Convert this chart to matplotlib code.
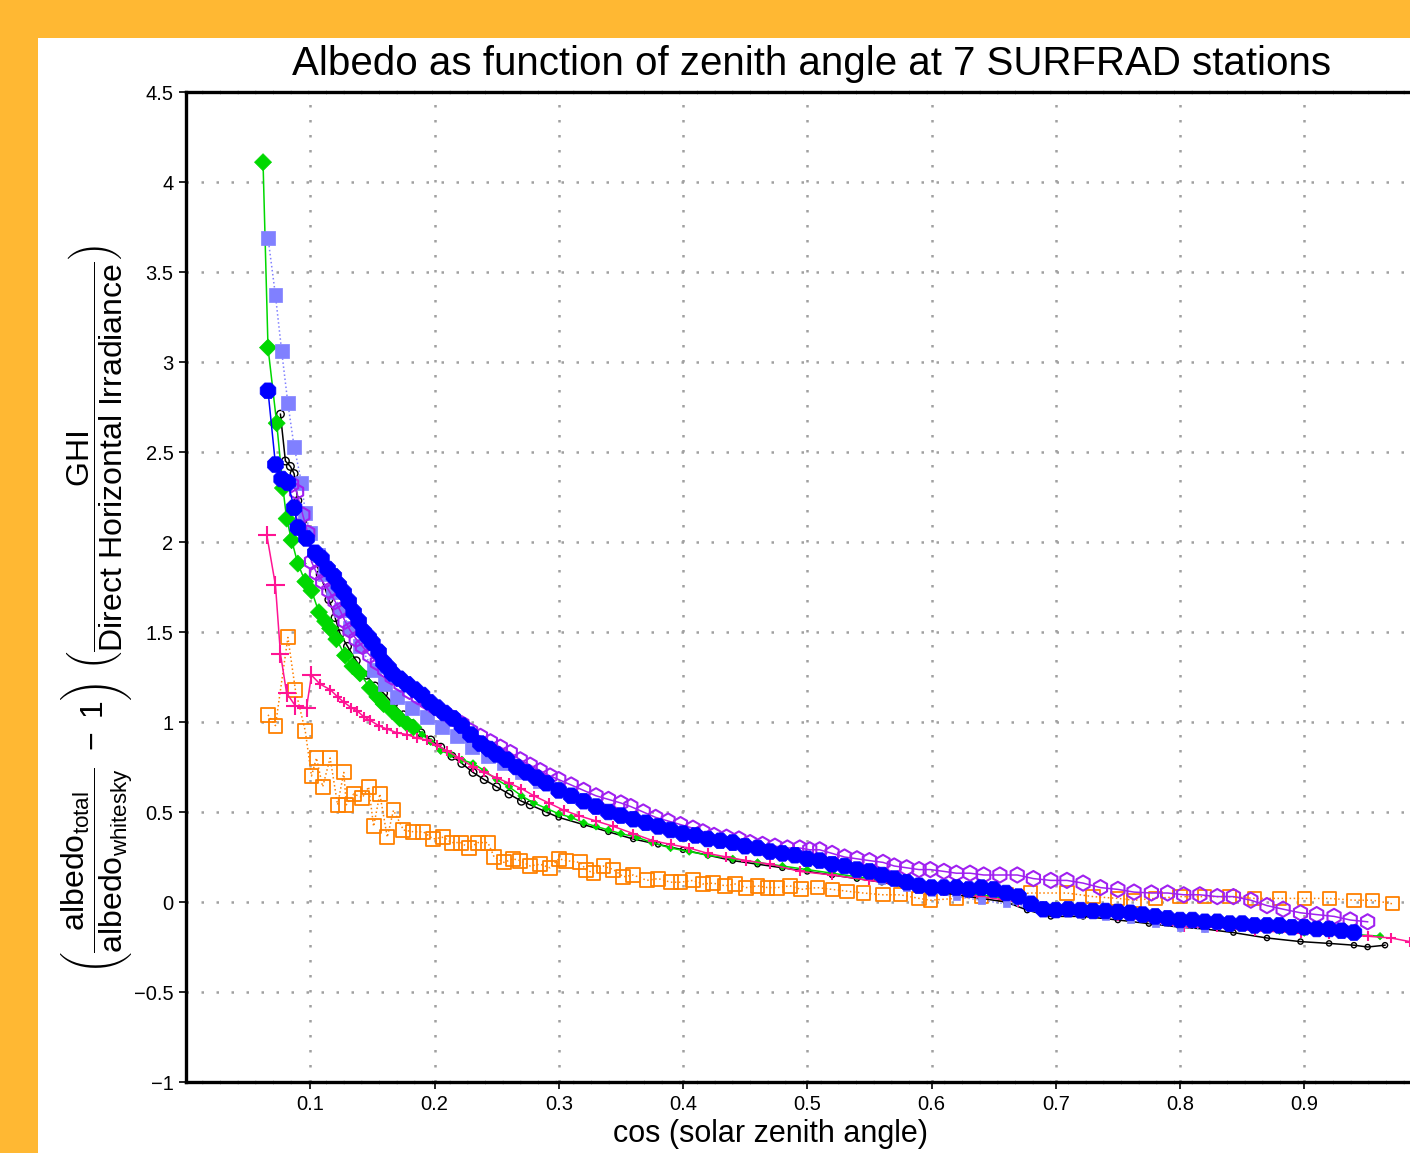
import numpy as np
import matplotlib.pyplot as plt
from matplotlib.patches import Rectangle

plt.rcParams['font.family'] = ['Liberation Sans', 'DejaVu Sans']
plt.rcParams['mathtext.fontset'] = 'custom'
plt.rcParams['mathtext.rm'] = 'Liberation Sans'
plt.rcParams['mathtext.it'] = 'Liberation Sans'
plt.rcParams['axes.unicode_minus'] = True

# ---- data: cos(zenith) and scaled albedo ----
green_x = [0.062, 0.066, 0.073, 0.078, 0.081, 0.085, 0.090, 0.096, 0.101, 0.107, 0.112, 0.116,
           0.121, 0.128, 0.134, 0.140, 0.148, 0.154, 0.159, 0.166, 0.172, 0.178, 0.183, 0.190,
           0.197, 0.205, 0.213, 0.222, 0.231, 0.240, 0.250, 0.260, 0.270, 0.280, 0.290, 0.300,
           0.310, 0.320, 0.330, 0.340, 0.350, 0.363, 0.375, 0.390, 0.405, 0.420, 0.440, 0.460,
           0.480, 0.500, 0.520, 0.540, 0.560, 0.580, 0.600, 0.620, 0.640, 0.660, 0.680, 0.700,
           0.720, 0.740, 0.760, 0.780, 0.800, 0.820, 0.840, 0.860, 0.880, 0.900, 0.920, 0.940,
           0.961]
green_y = [4.11, 3.08, 2.66, 2.30, 2.13, 2.01, 1.88, 1.78, 1.73, 1.61, 1.56, 1.52,
           1.46, 1.37, 1.31, 1.27, 1.19, 1.14, 1.10, 1.06, 1.02, 0.99, 0.97, 0.93,
           0.89, 0.84, 0.82, 0.79, 0.77, 0.73, 0.68, 0.64, 0.59, 0.55, 0.52, 0.49,
           0.47, 0.44, 0.42, 0.40, 0.38, 0.36, 0.33, 0.30, 0.28, 0.26, 0.24, 0.22,
           0.20, 0.18, 0.16, 0.14, 0.12, 0.10, 0.08, 0.06, 0.04, 0.02, 0.00, -0.02,
           -0.04, -0.06, -0.08, -0.10, -0.12, -0.13, -0.14, -0.15, -0.16, -0.17, -0.17, -0.18,
           -0.19]

lblue_x = [0.066, 0.072, 0.077, 0.082, 0.087, 0.093, 0.096, 0.100, 0.106, 0.112, 0.118, 0.125,
           0.132, 0.140, 0.151, 0.160, 0.170, 0.182, 0.194, 0.206, 0.218, 0.230, 0.243, 0.256,
           0.270, 0.285, 0.300, 0.315, 0.330, 0.345, 0.360, 0.380, 0.400, 0.420, 0.440, 0.460,
           0.480, 0.500, 0.520, 0.540, 0.560, 0.580, 0.600, 0.620, 0.640, 0.660, 0.680, 0.700,
           0.720, 0.740, 0.760, 0.780, 0.800, 0.820]
lblue_y = [3.69, 3.37, 3.06, 2.77, 2.53, 2.33, 2.16, 2.05, 1.93, 1.82, 1.72, 1.62,
           1.52, 1.42, 1.29, 1.21, 1.14, 1.08, 1.03, 0.97, 0.92, 0.86, 0.81, 0.77,
           0.72, 0.67, 0.62, 0.58, 0.54, 0.50, 0.46, 0.42, 0.38, 0.34, 0.31, 0.28,
           0.25, 0.22, 0.19, 0.16, 0.12, 0.08, 0.05, 0.03, 0.01, -0.01, -0.03, -0.05,
           -0.07, -0.08, -0.10, -0.12, -0.14, -0.15]

blue_x = [0.066, 0.072, 0.077, 0.082, 0.087, 0.090, 0.097, 0.104, 0.109, 0.114, 0.119, 0.123,
          0.127, 0.131, 0.135, 0.139, 0.143, 0.147, 0.150, 0.155, 0.159, 0.163, 0.166, 0.172,
          0.178, 0.184, 0.190, 0.196, 0.202, 0.208, 0.215, 0.222, 0.229, 0.237, 0.244, 0.250,
          0.258, 0.266, 0.274, 0.282, 0.290, 0.300, 0.310, 0.320, 0.330, 0.340, 0.350, 0.360,
          0.370, 0.380, 0.390, 0.400, 0.410, 0.420, 0.430, 0.440, 0.450, 0.460, 0.470, 0.480,
          0.490, 0.500, 0.510, 0.520, 0.530, 0.540, 0.550, 0.560, 0.570, 0.580, 0.590, 0.600,
          0.610, 0.620, 0.630, 0.640, 0.650, 0.660, 0.670, 0.680, 0.690, 0.700, 0.710, 0.720,
          0.730, 0.740, 0.750, 0.760, 0.770, 0.780, 0.790, 0.800, 0.810, 0.820, 0.830, 0.840,
          0.850, 0.860, 0.870, 0.880, 0.890, 0.900, 0.910, 0.920, 0.930, 0.940]
blue_y = [2.84, 2.43, 2.35, 2.33, 2.19, 2.08, 2.02, 1.94, 1.91, 1.85, 1.81, 1.76,
          1.72, 1.67, 1.61, 1.56, 1.50, 1.47, 1.44, 1.39, 1.33, 1.30, 1.27, 1.24,
          1.21, 1.18, 1.15, 1.11, 1.08, 1.05, 1.02, 0.98, 0.93, 0.88, 0.85, 0.82,
          0.79, 0.75, 0.72, 0.69, 0.66, 0.62, 0.59, 0.56, 0.53, 0.50, 0.48, 0.46,
          0.44, 0.42, 0.40, 0.38, 0.37, 0.35, 0.34, 0.33, 0.31, 0.30, 0.28, 0.27,
          0.26, 0.24, 0.23, 0.21, 0.20, 0.18, 0.17, 0.15, 0.13, 0.11, 0.09, 0.08,
          0.08, 0.08, 0.07, 0.08, 0.07, 0.05, 0.03, -0.01, -0.04, -0.045, -0.04, -0.045,
          -0.05, -0.05, -0.055, -0.06, -0.07, -0.08, -0.09, -0.10, -0.10, -0.11, -0.11, -0.12,
          -0.12, -0.13, -0.13, -0.13, -0.14, -0.14, -0.15, -0.15, -0.16, -0.17]

purple_x = [0.085, 0.089, 0.094, 0.098, 0.101, 0.105, 0.110, 0.115, 0.120, 0.124, 0.128, 0.132,
            0.137, 0.142, 0.148, 0.154, 0.160, 0.166, 0.173, 0.180, 0.187, 0.194, 0.201, 0.208,
            0.215, 0.222, 0.229, 0.237, 0.245, 0.253, 0.261, 0.269, 0.277, 0.285, 0.293, 0.300,
            0.310, 0.320, 0.330, 0.340, 0.350, 0.358, 0.368, 0.378, 0.388, 0.398, 0.408, 0.416,
            0.425, 0.435, 0.445, 0.454, 0.464, 0.474, 0.484, 0.494, 0.502, 0.510, 0.520, 0.530,
            0.540, 0.550, 0.561, 0.570, 0.580, 0.590, 0.599, 0.610, 0.620, 0.631, 0.642, 0.655,
            0.669, 0.682, 0.696, 0.709, 0.722, 0.736, 0.750, 0.763, 0.777, 0.790, 0.803, 0.816,
            0.830, 0.843, 0.857, 0.870, 0.883, 0.897, 0.910, 0.924, 0.937, 0.951]
purple_y = [2.32, 2.28, 2.15, 2.05, 1.89, 1.83, 1.78, 1.73, 1.67, 1.62, 1.56, 1.51,
            1.46, 1.42, 1.37, 1.33, 1.29, 1.25, 1.21, 1.17, 1.14, 1.11, 1.08, 1.05,
            1.02, 0.99, 0.95, 0.92, 0.89, 0.86, 0.83, 0.79, 0.76, 0.73, 0.70, 0.68,
            0.65, 0.62, 0.59, 0.57, 0.55, 0.53, 0.50, 0.47, 0.45, 0.43, 0.41, 0.39,
            0.37, 0.36, 0.35, 0.33, 0.32, 0.31, 0.30, 0.30, 0.29, 0.29, 0.27, 0.25,
            0.24, 0.23, 0.22, 0.20, 0.19, 0.18, 0.18, 0.17, 0.16, 0.16, 0.15, 0.15,
            0.15, 0.13, 0.12, 0.12, 0.105, 0.08, 0.07, 0.055, 0.05, 0.05, 0.04, 0.04,
            0.03, 0.03, 0.01, -0.02, -0.04, -0.06, -0.07, -0.08, -0.10, -0.11]

black_x = [0.076, 0.080, 0.084, 0.087, 0.090, 0.094, 0.098, 0.103, 0.108, 0.115, 0.120, 0.124,
           0.130, 0.137, 0.145, 0.152, 0.159, 0.167, 0.175, 0.182, 0.189, 0.197, 0.205, 0.214,
           0.222, 0.231, 0.240, 0.250, 0.260, 0.270, 0.277, 0.290, 0.300, 0.320, 0.340, 0.360,
           0.380, 0.400, 0.420, 0.440, 0.460, 0.480, 0.500, 0.520, 0.540, 0.560, 0.580, 0.600,
           0.620, 0.640, 0.660, 0.677, 0.696, 0.722, 0.750, 0.775, 0.800, 0.820, 0.843, 0.870,
           0.897, 0.920, 0.940, 0.951, 0.965]
black_y = [2.71, 2.45, 2.42, 2.38, 2.23, 2.12, 2.02, 1.92, 1.82, 1.68, 1.58, 1.49,
           1.42, 1.34, 1.26, 1.20, 1.16, 1.10, 1.04, 0.99, 0.94, 0.90, 0.86, 0.81,
           0.77, 0.72, 0.68, 0.64, 0.60, 0.56, 0.54, 0.50, 0.47, 0.43, 0.39, 0.35,
           0.32, 0.29, 0.26, 0.23, 0.21, 0.19, 0.17, 0.15, 0.13, 0.11, 0.08, 0.06,
           0.04, 0.02, 0.00, -0.045, -0.08, -0.08, -0.10, -0.12, -0.14, -0.15, -0.17, -0.20,
           -0.22, -0.23, -0.24, -0.25, -0.24]

pink_x = [0.065, 0.072, 0.076, 0.081, 0.088, 0.097, 0.101, 0.108, 0.116, 0.122, 0.127, 0.133,
          0.138, 0.143, 0.148, 0.155, 0.162, 0.170, 0.178, 0.186, 0.194, 0.202, 0.210, 0.220,
          0.231, 0.240, 0.250, 0.260, 0.270, 0.280, 0.292, 0.304, 0.316, 0.330, 0.344, 0.360,
          0.376, 0.390, 0.405, 0.420, 0.435, 0.451, 0.470, 0.494, 0.520, 0.550, 0.580, 0.610,
          0.640, 0.670, 0.700, 0.722, 0.750, 0.780, 0.803, 0.830, 0.860, 0.897, 0.920, 0.951,
          0.970, 0.985]
pink_y = [2.04, 1.76, 1.38, 1.16, 1.09, 1.08, 1.26, 1.21, 1.18, 1.14, 1.11, 1.08,
          1.06, 1.03, 1.01, 0.98, 0.96, 0.94, 0.93, 0.91, 0.90, 0.87, 0.84, 0.80,
          0.75, 0.72, 0.69, 0.66, 0.63, 0.59, 0.55, 0.51, 0.48, 0.45, 0.42, 0.38,
          0.34, 0.32, 0.30, 0.27, 0.25, 0.23, 0.21, 0.17, 0.15, 0.12, 0.09, 0.06,
          0.03, 0.00, -0.03, -0.06, -0.08, -0.11, -0.14, -0.14, -0.16, -0.17, -0.18, -0.19,
          -0.20, -0.22]

orange_x = [0.066, 0.072, 0.082, 0.088, 0.096, 0.101, 0.105, 0.110, 0.116, 0.122, 0.127, 0.129,
            0.135, 0.142, 0.147, 0.151, 0.156, 0.162, 0.167, 0.175, 0.183, 0.191, 0.199, 0.207,
            0.214, 0.221, 0.228, 0.235, 0.243, 0.248, 0.256, 0.263, 0.269, 0.277, 0.285, 0.293,
            0.300, 0.306, 0.317, 0.322, 0.328, 0.336, 0.344, 0.352, 0.360, 0.371, 0.380, 0.390,
            0.398, 0.408, 0.416, 0.424, 0.434, 0.442, 0.451, 0.460, 0.468, 0.476, 0.486, 0.495,
            0.508, 0.520, 0.532, 0.545, 0.561, 0.575, 0.590, 0.599, 0.620, 0.640, 0.660, 0.680,
            0.709, 0.730, 0.750, 0.763, 0.780, 0.800, 0.820, 0.840, 0.860, 0.880, 0.900, 0.920,
            0.940, 0.955, 0.971]
orange_y = [1.04, 0.98, 1.47, 1.18, 0.95, 0.70, 0.80, 0.64, 0.80, 0.54, 0.72, 0.54,
            0.60, 0.58, 0.64, 0.42, 0.60, 0.36, 0.51, 0.40, 0.39, 0.39, 0.35, 0.36,
            0.33, 0.33, 0.30, 0.33, 0.33, 0.25, 0.22, 0.24, 0.23, 0.20, 0.21, 0.19,
            0.24, 0.23, 0.22, 0.18, 0.16, 0.20, 0.18, 0.14, 0.15, 0.12, 0.13, 0.11,
            0.11, 0.12, 0.10, 0.105, 0.09, 0.10, 0.08, 0.09, 0.08, 0.08, 0.09, 0.07,
            0.08, 0.07, 0.06, 0.05, 0.04, 0.04, 0.02, 0.01, 0.02, 0.03, 0.04, 0.05,
            0.05, 0.03, 0.02, 0.01, 0.02, 0.03, 0.03, 0.03, 0.02, 0.02, 0.02, 0.02,
            0.01, 0.01, -0.01]

y_ticks = [-1, -0.5, 0, 0.5, 1, 1.5, 2, 2.5, 3, 3.5, 4, 4.5]
x_ticks = [0.1, 0.2, 0.3, 0.4, 0.5, 0.6, 0.7, 0.8, 0.9]

# ---- figure ----
fig = plt.figure(figsize=(14.1, 11.53), dpi=100)
fig.patch.set_facecolor('#FFB833')
fig.patches.append(Rectangle((38 / 1410, 0), 1.0, 1 - 38 / 1153, transform=fig.transFigure,
                             facecolor='white', edgecolor='none', zorder=-1))

ax = fig.add_axes([186 / 1410, 1 - 1082 / 1153, 1242.5 / 1410, 990 / 1153])
ax.set_zorder(2)
ax.set_facecolor('white')


def draw(xs, ys, color, marker, big, small, cut, filled=True, ls='-', lw_m=1.3, z=3):
    xs = np.asarray(xs)
    ys = np.asarray(ys)
    sizes = np.where(xs < cut, big, small)
    ax.plot(xs, ys, color=color, lw=1.1, ls=ls, zorder=z)
    if filled:
        ax.scatter(xs, ys, s=sizes, marker=marker, color=color, linewidths=0.5, zorder=z)
    elif marker == '+':
        ax.scatter(xs, ys, s=sizes, marker=marker, color=color, linewidths=lw_m, zorder=z)
    else:
        ax.scatter(xs, ys, s=sizes, marker=marker, facecolors='none', edgecolors=color,
                   linewidths=lw_m, zorder=z)


draw(orange_x, orange_y, '#FF8000', 's', 100, 90, 0.5, filled=False, ls=':', z=2)
draw(black_x, black_y, 'black', 'o', 30, 14, 0.3, filled=False, lw_m=1.0, z=3)
draw(green_x, green_y, '#00D800', 'D', 75, 14, 0.19, z=4)
draw(pink_x, pink_y, '#FF1493', '+', 170, 50, 0.105, filled=False, lw_m=1.5, z=5)
draw(lblue_x, lblue_y, '#8080FF', 's', 100, 25, 0.3, ls=':', z=6)
draw(purple_x, purple_y, '#A020F0', 'h', 120, 110, 1.0, filled=False, lw_m=1.5, z=7)
draw(blue_x, blue_y, '#0000FF', '8', 150, 140, 1.0, z=8)

ax.set_xlim(0, 1.0)
ax.set_ylim(-1, 4.5)
ax.set_xticks(x_ticks)
ax.set_xticklabels([f'{t:g}' for t in x_ticks])
ax.set_yticks(y_ticks)
ax.set_yticklabels([f'{t:g}'.replace('-', '\u2212') for t in y_ticks])
ax.tick_params(direction='out', length=5, width=1.2, labelsize=14.5, pad=4, colors='black')

ax.grid(True, color='#A0A0A0', linestyle=(0, (1, 5)), linewidth=1.8)
ax.set_axisbelow(True)

ax.spines['left'].set_linewidth(2.4)
ax.spines['right'].set_visible(False)
for side in ['top', 'bottom']:
    ax.spines[side].set_linewidth(2.4)
    ax.spines[side].set_linestyle((0, (4.5, 0.8)))

fig.text(812 / 1410, 1 - 64 / 1153, 'Albedo as function of zenith angle at 7 SURFRAD stations',
         ha='center', va='center', fontsize=29)
fig.text(771 / 1410, 1 - 1134 / 1153, 'cos (solar zenith angle)', ha='center', va='center',
         fontsize=22)

ylab = (r'$\left(\dfrac{\mathrm{albedo}_{\mathrm{total}}}{\mathrm{albedo}_{\mathrm{whitesky}}}'
        r'\ -\ 1\right)\ \left(\dfrac{\mathrm{GHI}}{\mathrm{Direct\ Horizontal\ Irradiance}}\right)$')
fig.text(97 / 1410, 1 - 610 / 1153, ylab, rotation=90, ha='center', va='center', fontsize=23)

plt.savefig('out.png', dpi=100, facecolor=fig.get_facecolor())
